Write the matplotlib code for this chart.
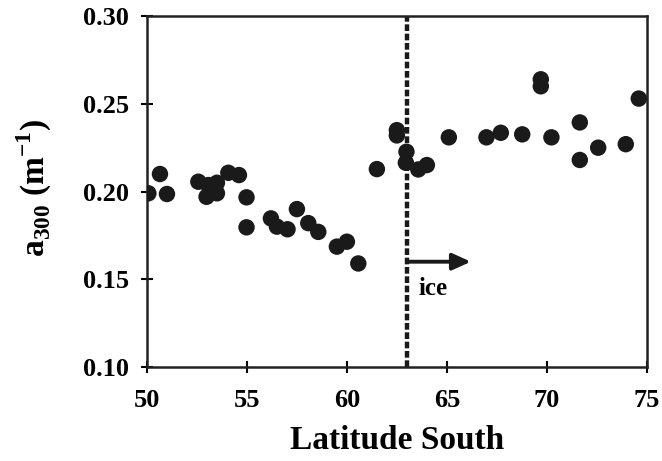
import matplotlib
matplotlib.use("Agg")
import matplotlib.pyplot as plt

plt.rcParams['font.family'] = ['Liberation Serif', 'DejaVu Serif']
plt.rcParams['font.weight'] = 'bold'
plt.rcParams['mathtext.fontset'] = 'custom'
plt.rcParams['mathtext.rm'] = 'Liberation Serif:bold'
plt.rcParams['mathtext.bf'] = 'Liberation Serif:bold'

# latitude (deg S) and absorption at 300 nm (1/m)
lat = [50.07, 50.65, 51.0, 52.57, 53.07, 52.98, 53.5, 53.5, 54.07, 54.6,
       54.98, 54.98, 56.2, 56.5, 57.03, 57.5, 58.07, 58.57, 59.5, 60.0,
       60.57, 61.5, 62.5, 62.5, 62.98, 62.95, 63.57, 64.0, 65.1, 66.98,
       67.7, 68.77, 69.7, 69.7, 70.23, 71.65, 71.65, 72.57, 73.95, 74.6]
a300 = [0.199, 0.210, 0.1986, 0.2056, 0.2037, 0.197, 0.205, 0.199, 0.2107, 0.2094,
        0.1967, 0.1796, 0.1847, 0.180, 0.1785, 0.190, 0.182, 0.177, 0.1686, 0.1714,
        0.159, 0.2128, 0.235, 0.232, 0.2227, 0.2164, 0.2126, 0.2151, 0.2309, 0.2309,
        0.2335, 0.2326, 0.264, 0.260, 0.2309, 0.2394, 0.218, 0.225, 0.227, 0.253]

ice_edge = 63.0
xticks = [50, 55, 60, 65, 70, 75]
yticks = [0.10, 0.15, 0.20, 0.25, 0.30]

fig = plt.figure(figsize=(6.62, 4.61), dpi=100)
ax = fig.add_axes([0.222, 0.204, 0.755, 0.761])

ax.scatter(lat, a300, s=140, c='#1a1a1a', edgecolors='none', zorder=3)
ax.axvline(ice_edge, color='#1a1a1a', lw=3.2, ls=(0, (1.5, 0.6)), zorder=2)
ax.annotate('', xy=(66.2, 0.16), xytext=(ice_edge, 0.16),
            arrowprops=dict(arrowstyle='-|>,head_length=1.1,head_width=0.5',
                            color='#1a1a1a', lw=2.8, shrinkA=0, shrinkB=0))
ax.text(63.6, 0.145, 'ice', fontsize=18, fontweight='bold', va='center', ha='left')

ax.set_xlim(50, 75)
ax.set_ylim(0.10, 0.30)
ax.set_xticks(xticks)
ax.set_yticks(yticks)
ax.set_yticklabels(['%.2f' % v for v in yticks])
ax.tick_params(direction='inout', length=8, width=1.5, labelsize=19)
ax.tick_params(axis='x', pad=12)
ax.tick_params(axis='y', pad=9)
for sp in ax.spines.values():
    sp.set_linewidth(1.8)
    sp.set_color('#222222')

ax.set_xlabel('Latitude South', fontsize=24, fontweight='bold')
ax.xaxis.set_label_coords(0.5, -0.165)
ax.set_ylabel(r'a$_{\mathbf{300}}$ (m$^{\mathbf{-1}}$)', fontsize=24, fontweight='bold')
ax.yaxis.set_label_coords(-0.185, 0.51)

fig.savefig('out.png', dpi=100)
